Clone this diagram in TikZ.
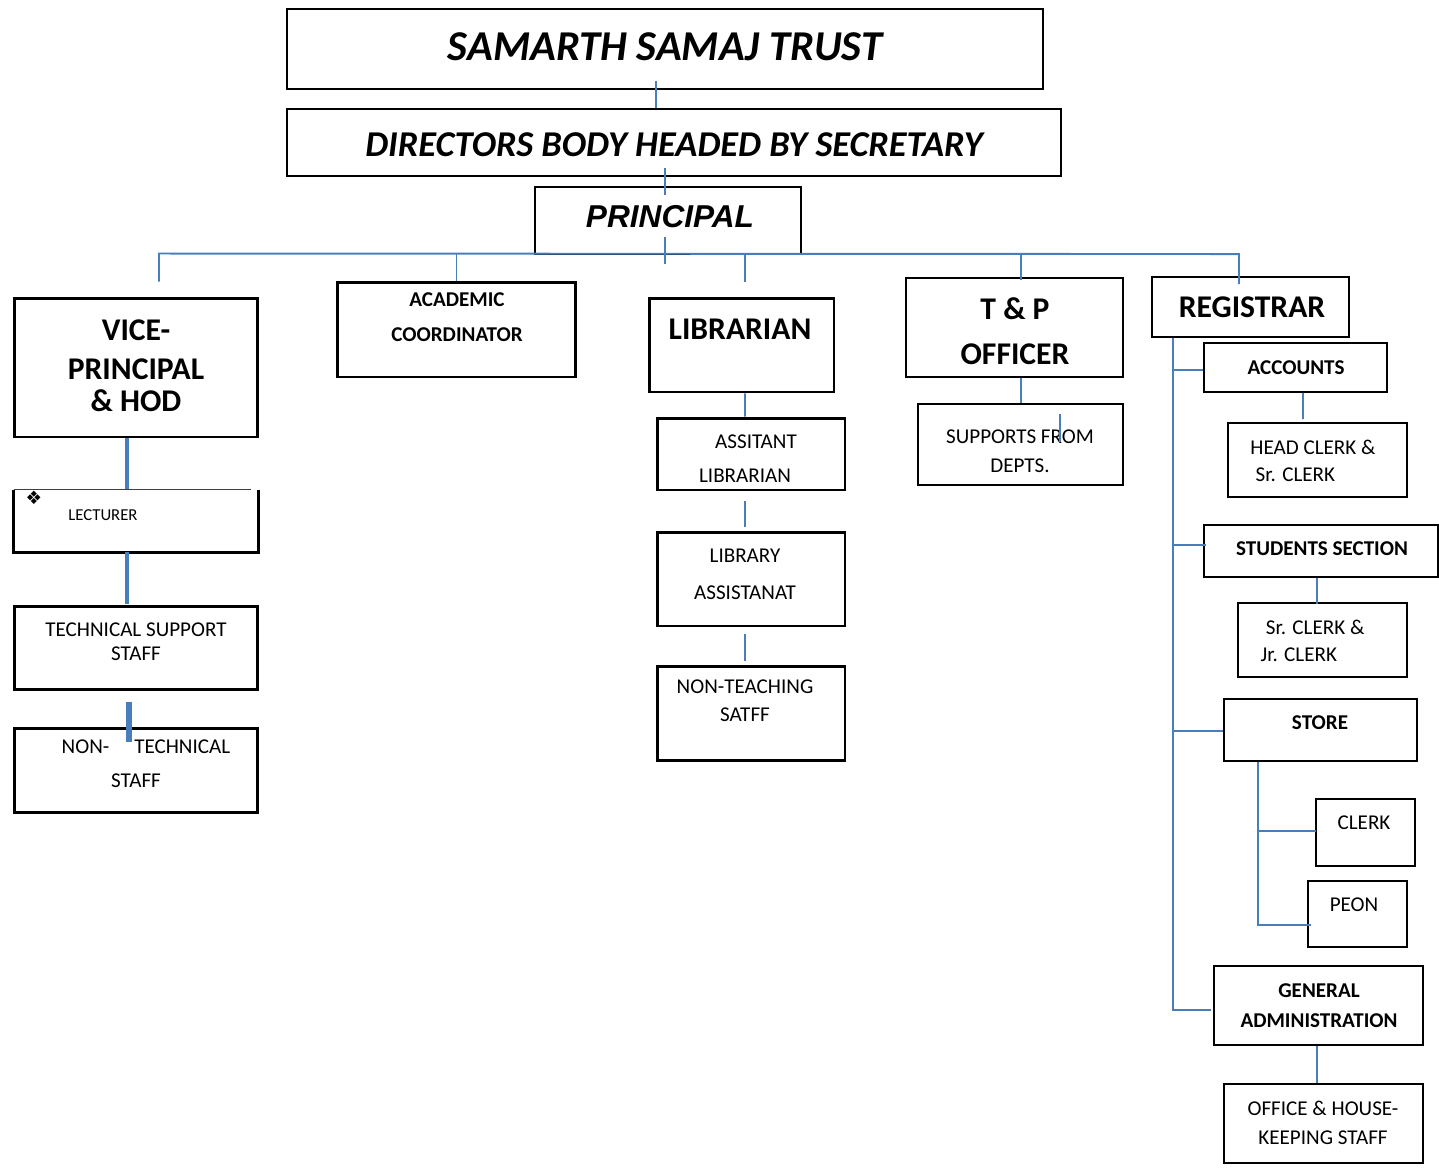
\documentclass[tikz,border=0pt]{standalone}
\usepackage{fontspec}
\setmainfont{Carlito}
\newfontfamily\arialfont{Liberation Sans}
\newfontfamily\dejafont{DejaVu Sans}
\newcommand\fsz[2]{\fontsize{#1pt}{#2pt}\selectfont}
\definecolor{lineblue}{HTML}{4A7EBB}
\begin{document}
\begin{tikzpicture}[x=0.02cm,y=-0.02cm,
  wh/.style 2 args={minimum width=#1cm, minimum height=#2cm},
  thinbox/.style={draw=black, line width=1.1pt, inner sep=0pt},
  thickbox/.style={draw=black, line width=1.7pt, inner sep=0pt},
  lbl/.style={inner sep=0pt, align=center, text=black},
  conn/.style={draw=lineblue, line width=1.1pt},
  connthick/.style={draw=lineblue, line width=1.8pt},
  connfat/.style={draw=lineblue, line width=3.4pt}]
\fill[white] (0,0) rectangle (1439,1167);
\useasboundingbox (0,0) rectangle (1439,1167);

% ---------- boxes ----------
\node[thinbox, wh={15.12}{1.6}]  (trust) at (665,49) {};
\node[thinbox, wh={15.48}{1.34}] (dir)   at (674,142.5) {};
\node[thinbox, wh={5.32}{1.34}]  (prin)  at (668,220.5) {};
\node[thickbox, wh={4.88}{2.78}] (vp)    at (136,367.5) {};
\node[thickbox, wh={4.78}{1.9}]  (acad)  at (456.5,329.5) {};
\node[thickbox, wh={3.7}{1.88}]  (lib)   at (741.5,345) {};
\node[thinbox, wh={4.34}{1.98}]  (tp)    at (1014.5,327.5) {};
\node[thinbox, wh={3.94}{1.2}]   (reg)   at (1250.5,307) {};
\node[inner sep=0pt, wh={4.88}{1.24}] (lect) at (136,521) {};
\draw[line width=1.7pt] (lect.north west) -- (lect.south west) -- (lect.south east) -- (lect.north east);
\draw[draw=black!75, line width=0.8pt] (lect.north west) -- ([shift={(-7,0)}]lect.north east);
\node[thickbox, wh={4.88}{1.66}] (tss)   at (136,647.5) {};
\node[thickbox, wh={4.88}{1.68}] (nts)   at (136,770) {};
\node[thickbox, wh={3.76}{1.44}] (al)    at (751,454) {};
\node[thickbox, wh={3.76}{1.88}] (la)    at (751,579) {};
\node[thickbox, wh={3.76}{1.88}] (nt)    at (751,713) {};
\node[thinbox, wh={4.1}{1.62}]   (sup)   at (1020.5,444.5) {};
\node[thinbox, wh={3.66}{0.98}]  (acc)   at (1295.5,367.5) {};
\node[thinbox, wh={3.58}{1.48}]  (hc)    at (1317.5,460) {};
\node[thinbox, wh={4.68}{1.04}]  (ss)    at (1321,551) {};
\node[thinbox, wh={3.38}{1.48}]  (sj)    at (1322.5,640) {};
\node[thinbox, wh={3.86}{1.24}]  (store) at (1320.5,730) {};
\node[thinbox, wh={1.98}{1.34}]  (clerk) at (1365.5,832.5) {};
\node[thinbox, wh={1.98}{1.32}]  (peon)  at (1357.5,914) {};
\node[thinbox, wh={4.18}{1.58}]  (ga)    at (1318.5,1005.5) {};
\node[thinbox, wh={3.98}{1.58}]  (off)   at (1323.5,1123.5) {};

% ---------- texts ----------
\node[lbl, font=\fsz{24.2}{28}\bfseries\itshape] (trustT) at (665,47) {SAMARTH SAMAJ TRUST};
\node[lbl, font=\fsz{20.7}{24}\bfseries\itshape] (dirT) at (674,145) {DIRECTORS BODY HEADED BY SECRETARY};
\node[lbl, font=\arialfont\fsz{18}{22}\bfseries\itshape] (prinT) at (670,217) {PRINCIPAL};
\node[lbl, font=\fsz{18}{18.1}\bfseries] (vpT) at (136,365.5) {VICE-\\[4pt]PRINCIPAL\\\& HOD};
\node[lbl, font=\fsz{12}{19.8}\bfseries] (acadT) at (457,317.5) {ACADEMIC\\COORDINATOR};
\node[lbl, font=\fsz{18}{22}\bfseries] (libT) at (740,329) {LIBRARIAN};
\node[lbl, font=\fsz{18}{25.5}\bfseries] (tpT) at (1015,331.5) {T \& P\\OFFICER};
\node[lbl, font=\fsz{18}{22}\bfseries] (regT) at (1252,307) {REGISTRAR};
\node[lbl, font=\fsz{9.5}{11}] (lectT) at (103,515) {LECTURER};
\node[lbl, font=\dejafont\fsz{10.5}{12}] (diam) at (34,498) {❖};
\node[lbl, font=\fsz{12}{13.6}] (tssT) at (136,642) {TECHNICAL SUPPORT\\STAFF};
\node[lbl, font=\fsz{12}{19.3}] (ntsT) at (136,764) {\hspace*{11.3pt}NON-\hspace{14.2pt}TECHNICAL\\STAFF};
\node[lbl, font=\fsz{12}{19.3}] (alT) at (745,459) {\hspace*{12.5pt}ASSITANT\\LIBRARIAN};
\node[lbl, font=\fsz{12}{21}] (laT) at (745,574.5) {LIBRARY\\ASSISTANAT};
\node[lbl, font=\fsz{12}{15.9}] (ntT) at (745,701) {NON-TEACHING\\SATFF};
\node[lbl, font=\fsz{12}{16.4}] (supT) at (1020,451.5) {SUPPORTS FROM\\DEPTS.};
\node[lbl, font=\fsz{12}{14}\bfseries] (accT) at (1296,368) {ACCOUNTS};
\node[lbl, align=left, font=\fsz{12}{15.3}] (hcT) at (1313,460.5) {HEAD CLERK \&\\\hspace*{3pt}Sr. CLERK};
\node[lbl, font=\fsz{12}{14}\bfseries] (ssT) at (1322,549) {STUDENTS SECTION};
\node[lbl, align=left, font=\fsz{12}{15.3}] (sjT) at (1312.5,640.5) {\hspace*{3pt}Sr. CLERK \&\\Jr. CLERK};
\node[lbl, font=\fsz{12}{14}\bfseries] (storeT) at (1320,723) {STORE};
\node[lbl, font=\fsz{12}{14}] (clerkT) at (1364,823) {CLERK};
\node[lbl, font=\fsz{12}{14}] (peonT) at (1354,905) {PEON};
\node[lbl, font=\fsz{12}{17}\bfseries] (gaT) at (1319,1006) {GENERAL\\ADMINISTRATION};
\node[lbl, font=\fsz{12}{16.4}] (offT) at (1323,1122.5) {OFFICE \& HOUSE-\\KEEPING STAFF};

% ---------- connectors ----------
\draw[conn] ([shift={(-9,-9)}]trust.south) -- ([shift={(-18,0)}]dir.north);
\draw[conn] ([shift={(-9,-9)}]dir.south) -- ([shift={(-3,9)}]prin.north);
\draw[conn] ([shift={(-3,-18)}]prin.south) -- ([shift={(-3,9)}]prin.south);
\coordinate (busL) at ([shift={(23,-43)}]vp.north);
\coordinate (busR) at ([shift={(-11.5,-22)}]reg.north);
\draw[conn] ([shift={(23,-15)}]vp.north) -- (busL) -- (busR) -- ([shift={(-11.5,8)}]reg.north);
\draw[conn] (acad.north |- busL) -- (acad.north);
\draw[conn] ([shift={(3.5,-43)}]lib.north) -- ([shift={(3.5,-15)}]lib.north);
\draw[conn] ([shift={(6.5,-23)}]tp.north) -- ([shift={(6.5,3)}]tp.north);
% vice-principal column
\draw[connthick] ([shift={(-9,0)}]vp.south) -- ([shift={(-9,-1)}]lect.north);
\draw[connthick] ([shift={(-9,0)}]lect.south) -- ([shift={(-9,-1)}]tss.north);
\draw[connfat] ([shift={(-7,11)}]tss.south) -- ([shift={(-7,15)}]nts.north);
% librarian column
\draw[conn] ([shift={(3.5,0)}]lib.south) -- ([shift={(-6,0)}]al.north);
\draw[conn] ([shift={(-6,10)}]al.south) -- ([shift={(-6,-4)}]la.north);
\draw[conn] ([shift={(-6,7)}]la.south) -- ([shift={(-6,-4)}]nt.north);
% T&P column
\draw[conn] ([shift={(6.5,0)}]tp.south) -- ([shift={(0.5,0)}]sup.north);
\draw[conn] ([shift={(39.5,11)}]sup.north) -- ([shift={(39.5,39)}]sup.north);
% registrar column
\coordinate (spTop) at ([shift={(-77.5,0)}]reg.south);
\coordinate (gaB) at ([shift={(-2,4.5)}]ga.west);
\coordinate (accB) at ([shift={(0,2.5)}]acc.west);
\coordinate (ssB) at ([shift={(3,-6)}]ss.west);
\coordinate (storeB) at ([shift={(0,1)}]store.west);
\draw[conn] (spTop) -- (spTop |- gaB) -- (gaB);
\draw[conn] (accB -| spTop) -- (accB);
\draw[conn] (ssB -| spTop) -- (ssB);
\draw[conn] (storeB -| spTop) -- (storeB);
\draw[conn] ([shift={(7.5,0)}]acc.south) -- ([shift={(-14.5,-3)}]hc.north);
\draw[conn] ([shift={(-4,0)}]ss.south) -- ([shift={(-5.5,2)}]sj.north);
\coordinate (stTop) at ([shift={(-62.5,0)}]store.south);
\coordinate (peonB) at ([shift={(4,11)}]peon.west);
\coordinate (clerkB) at ([shift={(1,-1.5)}]clerk.west);
\draw[conn] (stTop) -- (stTop |- peonB) -- (peonB);
\draw[conn] (clerkB -| stTop) -- (clerkB);
\draw[conn] ([shift={(-1.5,0)}]ga.south) -- ([shift={(-6.5,0)}]off.north);
\end{tikzpicture}
\end{document}
